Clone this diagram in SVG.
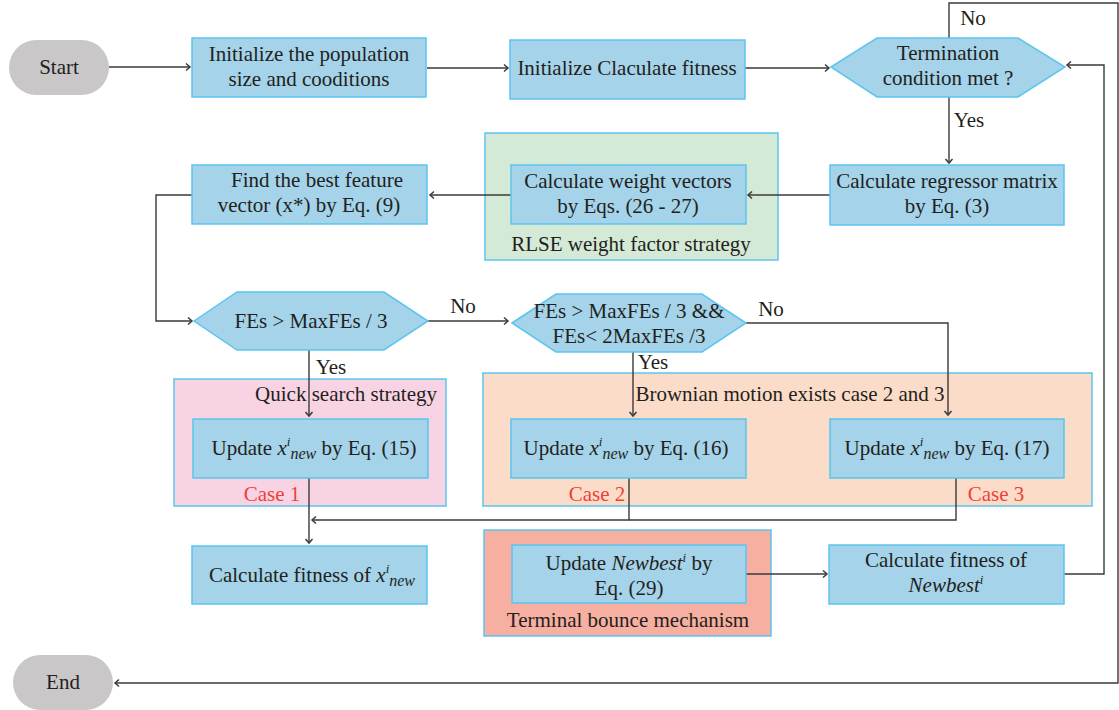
<svg xmlns="http://www.w3.org/2000/svg" width="1119" height="710" viewBox="0 0 1119 710">
<style>
.box{fill:#a4d3ea;stroke:#5bc5ee;stroke-width:1.5}
.term{fill:#c9c7c8}
.t{font-family:"Liberation Serif",serif;font-size:21px;fill:#231f20;text-anchor:middle}
.red{fill:#ef4136}
.c{fill:none;stroke:#3a3a3a;stroke-width:1.4}
.sup{font-style:italic;font-size:13px}
.sub{font-style:italic;font-size:16px}
</style>
<defs>
<marker id="a" markerWidth="10" markerHeight="10" refX="8" refY="5" orient="auto" markerUnits="userSpaceOnUse">
<polyline points="4,1.5 8,5 4,8.5" fill="none" stroke="#3a3a3a" stroke-width="1.5"/>
</marker>
</defs>
<rect width="1119" height="710" fill="#fff"/>

<g id="containers">
<rect x="485" y="133" width="293" height="127" fill="#d4e9d6" stroke="#5bc5ee" stroke-width="1.5"/>
<text class="t" x="631" y="251">RLSE weight factor strategy</text>
<rect x="174" y="379" width="272" height="127" fill="#f8d3e3" stroke="#5bc5ee" stroke-width="1.5"/>
<text class="t" x="437" y="401" style="text-anchor:end">Quick search strategy</text>
<text class="t red" x="272" y="501">Case 1</text>
<rect x="483" y="373" width="609" height="133" fill="#fbdcc9" stroke="#5bc5ee" stroke-width="1.5"/>
<text class="t" x="790" y="401">Brownian motion exists case 2 and 3</text>
<text class="t red" x="597" y="501">Case 2</text>
<text class="t red" x="996" y="501">Case 3</text>
<rect x="484" y="530" width="287" height="106" fill="#f7afa1" stroke="#5bc5ee" stroke-width="1.5"/>
<text class="t" x="628" y="627">Terminal bounce mechanism</text>
</g>

<g id="connectors">
<line class="c" x1="109" y1="67" x2="190" y2="67" marker-end="url(#a)"/>
<line class="c" x1="427" y1="68" x2="508" y2="68" marker-end="url(#a)"/>
<line class="c" x1="745" y1="68" x2="829" y2="68" marker-end="url(#a)"/>
<polyline class="c" points="949,38 949,3 1118,3 1118,683 115,683" marker-end="url(#a)"/>
<text class="t" x="973" y="25">No</text>
<line class="c" x1="949" y1="97" x2="949" y2="163" marker-end="url(#a)"/>
<text class="t" x="969" y="127">Yes</text>
<line class="c" x1="830" y1="195" x2="748" y2="195" marker-end="url(#a)"/>
<line class="c" x1="511" y1="195" x2="430" y2="195" marker-end="url(#a)"/>
<polyline class="c" points="192,195 156,195 156,321 192,321" marker-end="url(#a)"/>
<line class="c" x1="428" y1="321" x2="508" y2="321" marker-end="url(#a)"/>
<text class="t" x="463" y="313">No</text>
<polyline class="c" points="746,323 948,323 948,415" marker-end="url(#a)"/>
<text class="t" x="771" y="316">No</text>
<line class="c" x1="309" y1="350" x2="309" y2="416" marker-end="url(#a)"/>
<text class="t" x="331" y="374">Yes</text>
<line class="c" x1="633" y1="352" x2="633" y2="416" marker-end="url(#a)"/>
<text class="t" x="653" y="369">Yes</text>
<line class="c" x1="309" y1="478" x2="309" y2="543" marker-end="url(#a)"/>
<polyline class="c" points="629,478 629,520 312,520" marker-end="url(#a)"/>
<polyline class="c" points="956,478 956,520 629,520"/>
<line class="c" x1="746" y1="574" x2="827" y2="574" marker-end="url(#a)"/>
<polyline class="c" points="1064,574 1104,574 1104,65 1067,65" marker-end="url(#a)"/>
</g>

<g id="start">
<rect class="term" x="9" y="40" width="100" height="55" rx="27.5"/>
<text class="t" x="59" y="74">Start</text>
</g>
<g id="init-pop">
<rect class="box" x="192" y="38" width="234" height="59"/>
<text class="t" x="309" y="61">Initialize the population</text>
<text class="t" x="309" y="86">size and cooditions</text>
</g>
<g id="init-fit">
<rect class="box" x="510" y="40" width="235" height="59"/>
<text class="t" x="627" y="75">Initialize Claculate fitness</text>
</g>
<g id="termination">
<polygon class="box" points="831,67 877,38 1018,38 1065,67 1018,97 877,97"/>
<text class="t" x="948" y="60">Termination</text>
<text class="t" x="948" y="85">condition met ?</text>
</g>
<g id="regressor">
<rect class="box" x="830" y="165" width="234" height="60"/>
<text class="t" x="947" y="188">Calculate regressor matrix</text>
<text class="t" x="947" y="213">by Eq. (3)</text>
</g>
<g id="weights">
<rect class="box" x="511" y="165" width="235" height="59"/>
<text class="t" x="628" y="188">Calculate weight vectors</text>
<text class="t" x="628" y="213">by Eqs. (26 - 27)</text>
</g>
<g id="best">
<rect class="box" x="192" y="165" width="235" height="59"/>
<text class="t" x="317" y="187">Find the best feature</text>
<text class="t" x="309" y="212">vector (x*) by Eq. (9)</text>
</g>
<g id="cond1">
<polygon class="box" points="194,321 237,292 384,292 428,321 384,350 237,350"/>
<text class="t" x="311" y="328">FEs &gt; MaxFEs / 3</text>
</g>
<g id="cond2">
<polygon class="box" points="512,323 556,294 702,294 746,323 702,352 556,352"/>
<text class="t" x="629" y="318">FEs &gt; MaxFEs / 3 &amp;&amp;</text>
<text class="t" x="629" y="343">FEs&lt; 2MaxFEs /3</text>
</g>
<g id="upd15">
<rect class="box" x="193" y="419" width="235" height="59"/>
<text class="t" x="314" y="455">Update <tspan font-style="italic">x</tspan><tspan class="sup" dy="-9">i</tspan><tspan class="sub" dy="13">new</tspan><tspan dy="-4"> by Eq. (15)</tspan></text>
</g>
<g id="upd16">
<rect class="box" x="511" y="419" width="235" height="59"/>
<text class="t" x="626" y="455">Update <tspan font-style="italic">x</tspan><tspan class="sup" dy="-9">i</tspan><tspan class="sub" dy="13">new</tspan><tspan dy="-4"> by Eq. (16)</tspan></text>
</g>
<g id="upd17">
<rect class="box" x="830" y="419" width="234" height="59"/>
<text class="t" x="947" y="455">Update <tspan font-style="italic">x</tspan><tspan class="sup" dy="-9">i</tspan><tspan class="sub" dy="13">new</tspan><tspan dy="-4"> by Eq. (17)</tspan></text>
</g>
<g id="fitness-new">
<rect class="box" x="192" y="546" width="235" height="58"/>
<text class="t" x="312" y="582">Calculate fitness of <tspan font-style="italic">x</tspan><tspan class="sup" dy="-9">i</tspan><tspan class="sub" dy="13">new</tspan></text>
</g>
<g id="upd-newbest">
<rect class="box" x="512" y="545" width="234" height="58"/>
<text class="t" x="629" y="570">Update <tspan font-style="italic">Newbest</tspan><tspan class="sup" dy="-8">i</tspan><tspan dy="8"> by</tspan></text>
<text class="t" x="629" y="595">Eq. (29)</text>
</g>
<g id="fitness-newbest">
<rect class="box" x="829" y="545" width="235" height="59"/>
<text class="t" x="946" y="567">Calculate fitness of</text>
<text class="t" x="946" y="592"><tspan font-style="italic">Newbest</tspan><tspan class="sup" dy="-8">i</tspan></text>
</g>
<g id="end">
<rect class="term" x="13" y="655" width="100" height="55" rx="27.5"/>
<text class="t" x="63" y="689">End</text>
</g>
</svg>
